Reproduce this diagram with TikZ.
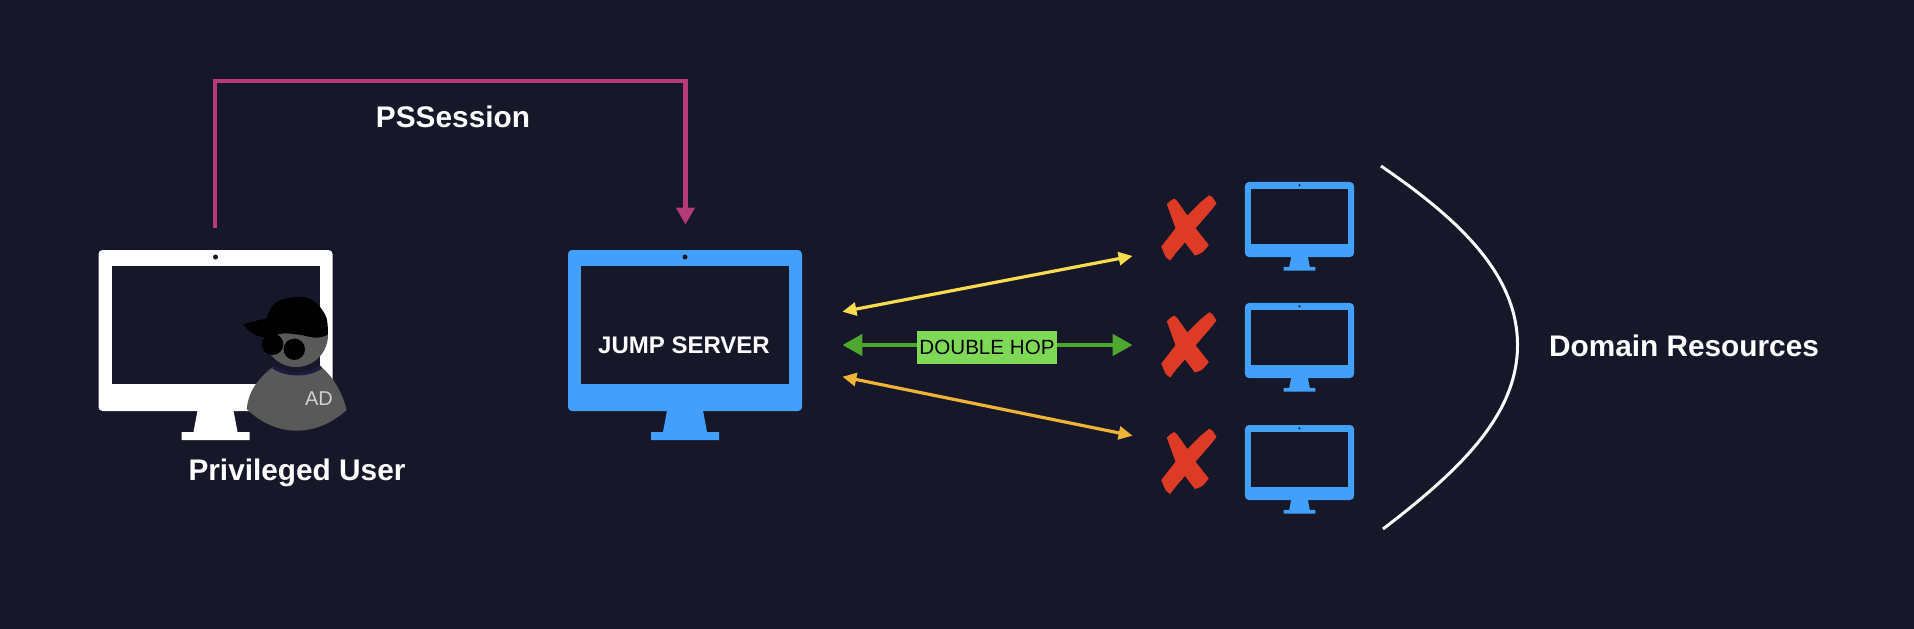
\documentclass[tikz,border=0pt]{standalone}
\usepackage{fontspec}
\setmainfont{Liberation Sans}
\usepackage{xcolor}
\usetikzlibrary{arrows.meta}
\definecolor{nightbg}{HTML}{161729}
\definecolor{screenblue}{HTML}{429FFB}
\definecolor{sessionpink}{HTML}{B53A77}
\definecolor{hopgreen}{HTML}{4EA72E}
\definecolor{hoplabel}{HTML}{7ED957}
\definecolor{linkyellow}{HTML}{F7DC50}
\definecolor{linkorange}{HTML}{EFB338}
\definecolor{crossred}{HTML}{DD3B25}
\definecolor{usergray}{HTML}{595959}
\definecolor{collarblue}{HTML}{1C1C40}

\begin{document}
\begin{tikzpicture}[x=0.5pt, y=-0.5pt]
        % Styles
        \tikzset{
            caption/.style={text=white, inner sep=0pt, font=\bfseries\fontsize{14.9}{17}\selectfont},
            servername/.style={text=white, inner sep=0pt, font=\bfseries\fontsize{12}{14}\selectfont},
            hopbox/.style={fill=hoplabel, text=black, inner sep=0pt, minimum width=70pt, minimum height=16.5pt,
                         font=\fontsize{10.3}{12}\selectfont},
            adtext/.style={text=black!18, inner sep=0pt, font=\fontsize{10}{12}\selectfont},
            arrow/.style={<->, line width=1.6pt, >={Triangle[length=7pt, width=6.5pt]}},
            hoparrow/.style={->, hopgreen, line width=2.4pt, >={Triangle[length=10pt, width=10.5pt]}},
            sessionarrow/.style={->, sessionpink, line width=2.1pt, >={Triangle[length=8.5pt, width=9pt]}},
            bigscreen/.style={fill=screenblue},
            userscreen/.style={fill=white},
            smallscreen/.style={fill=screenblue, scale=0.466},
            monitor/.pic={
                \fill[pic actions, rounded corners=2pt] (-117,-80.5) rectangle (117,80.5);
                \fill[pic actions] (-18,80) -- (18,80) -- (22,101.5) -- (34,101.5) -- (34,109.5)
                    -- (-34,109.5) -- (-34,101.5) -- (-22,101.5) -- cycle;
                \fill[nightbg] (-104,-64.5) rectangle (104,53.5);
                \fill[nightbg] (0,-73.5) circle (2.5);
                \node[inner sep=0pt, minimum width=117pt, minimum height=80.5pt, transform shape] (-box) at (0,0) {};
            },
            cross/.pic={
                \filldraw[crossred, line width=0.4pt, line join=round] (-21.7,-23.7) -- (-19,-26.3) -- (-15,-29) -- (-12.3,-27) -- (-1.7,-12)
                    -- (11,-24.7) -- (20.3,-32.3) -- (23.3,-30.3) -- (27,-24.7) -- (22.7,-19)
                    -- (6,0.3) -- (19.3,17) -- (14.3,23) -- (11,25.3) -- (6,27) -- (-4,13.7)
                    -- (-14,25.3) -- (-19,32) -- (-23,28.7) -- (-27.3,18.7) -- (-13,0.3) -- cycle;
                \node[inner sep=0pt, minimum width=27pt, minimum height=32pt] (-box) at (0,0) {};
            }
        }

        % Background
        \useasboundingbox (0,0) rectangle (1914,628);
        \fill[nightbg] (-4,-4) rectangle (1918,632);

        % Machines
        \pic[userscreen] (user) at (215.5,330.5) {monitor};
        \pic[bigscreen] (jump) at (685,330.5) {monitor};
        \pic[smallscreen] (resa) at (1299.5,219.5) {monitor};
        \pic[smallscreen] (resb) at (1299.5,340.5) {monitor};
        \pic[smallscreen] (resc) at (1299.5,462.5) {monitor};

        % Crosses
        \pic (crossa) at (1189,228) {cross};
        \pic (crossb) at (1189,345) {cross};
        \pic (crossc) at (1189,461.5) {cross};

        % User figure
        \fill[usergray] (296,335) circle (32);
        \fill[usergray] (273.3,366.7) .. controls (255,380) and (248,395) .. (246.7,409)
            .. controls (262,424) and (280,430.7) .. (296.7,430.7)
            .. controls (315,430.7) and (332,423) .. (346.7,410)
            .. controls (342,392) and (334,378) .. (321,366.7)
            .. controls (310,376) and (285,376) .. (273.3,366.7) -- cycle;
        \draw[collarblue, line width=1.75pt] (273.3,366.7) .. controls (285,376) and (310,376) .. (321,366.7);
        \fill[black] (243.3,324.3) .. controls (250,322) and (260,320) .. (266.7,318.3)
            .. controls (270,310) and (272,305) .. (275,303.3)
            .. controls (280,299) and (290,297) .. (303.3,296.7)
            .. controls (312,298) and (322,306) .. (326.7,318.3)
            .. controls (328,325) and (328,330) .. (327.7,335)
            .. controls (322,337) and (318,338) .. (315,337.7)
            .. controls (308,337) and (300,334) .. (295,334.3)
            .. controls (288,333) and (283,333) .. (278.3,334.3)
            .. controls (274,336) and (270,338) .. (266.7,337.7)
            .. controls (258,337.5) and (248,332) .. (243.3,324.3) -- cycle;
        \fill[black] (272.7,344.3) circle (10.7);
        \fill[black] (294.3,349.3) circle (10.7);

        % Texts
        \node[caption] (session) at (453,116.5) {PSSession};
        \node[caption] (privileged) at (297,473) {Privileged User};
        \node[caption] (domain) at (1684,346) {Domain Resources};
        \node[servername] (jumpname) at (684,345.5) {JUMP SERVER};
        \node[adtext] (adname) at (319,399) {AD};
        \node[hopbox] (hop) at (987,347.5) {DOUBLE HOP};

        % Connexions
        \draw[sessionarrow] ([xshift=-0.25pt,yshift=11pt]user-box.north) -- ++(0,-147) -| ([xshift=0.25pt,yshift=12.5pt]jump-box.north);
        \draw[arrow, linkyellow] ([shift={(40,-18.8)}]jump-box.east) -- ([shift={(-29,28)}]crossa-box.west);
        \draw[arrow, linkorange] ([shift={(40,46.2)}]jump-box.east) -- ([shift={(-29,-25.8)}]crossc-box.west);
        \draw[hoparrow] ([yshift=1.25pt]hop.west) -- ([xshift=20pt,yshift=-7.25pt]jump-box.east);
        \draw[hoparrow] ([yshift=1.25pt]hop.east) -- ([xshift=-14.5pt]crossb-box.west);

        % Domain bracket
        \draw[white, line width=1.5pt] (1381,166) .. controls (1460,220) and (1517.5,275) .. (1517.5,345)
            .. controls (1517.5,415) and (1460,470) .. (1383,529);
    \end{tikzpicture}
\end{document}
